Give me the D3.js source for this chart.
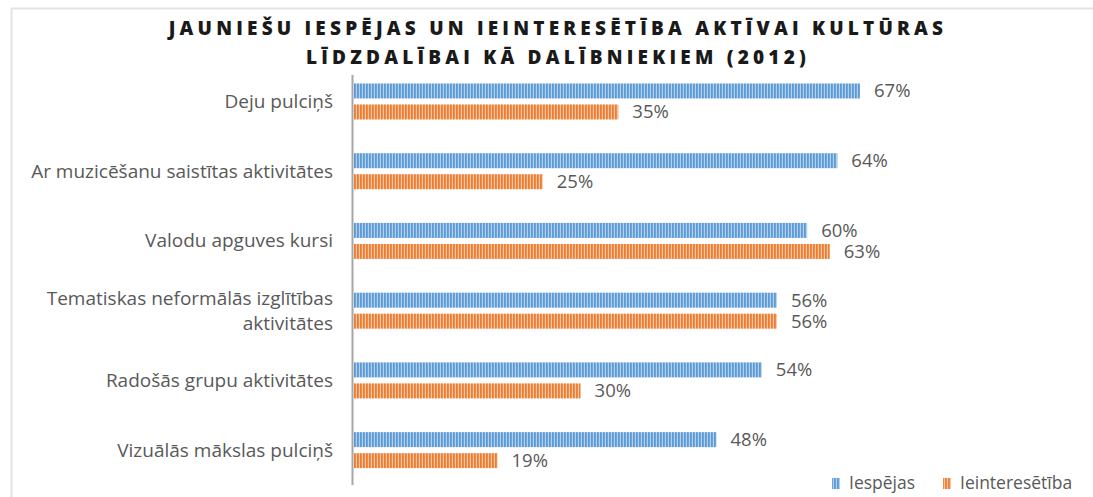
<!DOCTYPE html>
<html lang="lv">
<head>
	<meta charset="UTF-8">
	<title>Jauniešu iespējas</title>
	<script src="https://cdn.jsdelivr.net/npm/d3@7"></script>
	<style>
		html,body{margin:0;padding:0;background:#fff;}
		svg{display:block;}
		text{font-family:"Open Sans",Lato,sans-serif;}
	</style>
</head>
<body>
	<svg id="svg" width="1093" height="497"></svg>
	<script>
		var categories = ["Deju pulciņš","Ar muzicēšanu saistītas aktivitātes","Valodu apguves kursi","Tematiskas neformālās izglītības aktivitātes","Radošās grupu aktivitātes","Vizuālās mākslas pulciņš"];
		var iespejas = [67,64,60,56,54,48];
		var ieinteresetiba = [35,25,63,56,30,19];
		var seriesNames = ["Iespējas","Ieinteresētība"];
		var titleLines = ["JAUNIEŠU IESPĒJAS UN IEINTERESĒTĪBA AKTĪVAI KULTŪRAS","LĪDZDALĪBAI KĀ DALĪBNIEKIEM (2012)"];

		var svg = d3.select("#svg"),
			w = 1093, h = 497;

		// frame
		svg.append("line").attr("x1",11).attr("x2",w).attr("y1",8.5).attr("y2",8.5)
			.attr("stroke","#e3e3e3").attr("stroke-width",2);
		svg.append("line").attr("x1",11.5).attr("x2",11.5).attr("y1",8).attr("y2",h)
			.attr("stroke","#e3e3e3").attr("stroke-width",2);

		// stripe patterns
		var defs = svg.append("defs");
		function stripes(id, light, dark){
			var p = defs.append("pattern").attr("id",id)
				.attr("patternUnits","userSpaceOnUse").attr("width",3).attr("height",10);
			p.append("rect").attr("width",3).attr("height",10).attr("fill",light);
			p.append("rect").attr("width",1.8).attr("height",10).attr("fill",dark);
		}
		stripes("pBlue","#b4d0ef","#5b9bd5");
		stripes("pOrange","#f8c6a3","#ed7d31");
		var fills = ["url(#pBlue)","url(#pOrange)"];

		// title
		svg.append("text").attr("x",558).attr("y",35)
			.attr("text-anchor","middle").attr("font-weight","900")
			.attr("font-family","Lato,sans-serif")
			.attr("font-size",19).attr("fill","#1a1a1a").attr("letter-spacing",4.2)
			.selectAll("tspan").data(titleLines).enter().append("tspan")
			.attr("x",558).attr("dy",(d,i)=>i==0?0:29).text(d=>d);

		var x0 = 354;
		var xscale = d3.scaleLinear().domain([0,67]).range([x0,860]);
		var yscale = d3.scaleBand().domain(categories).range([66.6,485]);

		var barH = 15, gap = 6;
		var groups = svg.selectAll(".grp").data(categories).enter().append("g")
			.attr("class","grp")
			.attr("transform",d=>"translate(0,"+(yscale(d)+yscale.bandwidth()/2)+")");

		[iespejas,ieinteresetiba].forEach((vals,s)=>{
			groups.append("rect")
				.attr("x",x0)
				.attr("y",(d,i)=>s==0?-gap/2-barH:gap/2)
				.attr("width",(d,i)=>xscale(vals[i])-x0)
				.attr("height",barH)
				.attr("fill",fills[s]);
			groups.append("text")
				.attr("x",(d,i)=>xscale(vals[i])+14)
				.attr("y",(d,i)=>(s==0?-gap/2-barH/2:gap/2+barH/2)+6.5)
				.attr("font-size",18.5).attr("fill","#595959")
				.text((d,i)=>vals[i]+"%");
		});

		// category labels
		groups.append("text")
			.attr("text-anchor","end").attr("font-size",19).attr("fill","#595959")
			.each(function(d){
				var t = d3.select(this);
				var lines = d.length>40 ? ["Tematiskas neformālās izglītības","aktivitātes"] : [d];
				lines.forEach((l,k)=>{
					t.append("tspan").attr("x",333)
						.attr("y",(k-(lines.length-1)/2)*25+6.5).text(l);
				});
			});

		// axis line
		svg.append("line").attr("x1",352.5).attr("x2",352.5).attr("y1",75).attr("y2",485)
			.attr("stroke","#a6a6a6").attr("stroke-width",2);

		// legend
		var legX = [832,943];
		seriesNames.forEach((n,i)=>{
			svg.append("rect").attr("x",legX[i]).attr("y",478).attr("width",8).attr("height",11)
				.attr("fill",fills[i]);
			svg.append("text").attr("x",legX[i]+17).attr("y",489)
				.attr("font-size",17.5).attr("fill","#595959").text(n);
		});
	</script>
</body>
</html>
